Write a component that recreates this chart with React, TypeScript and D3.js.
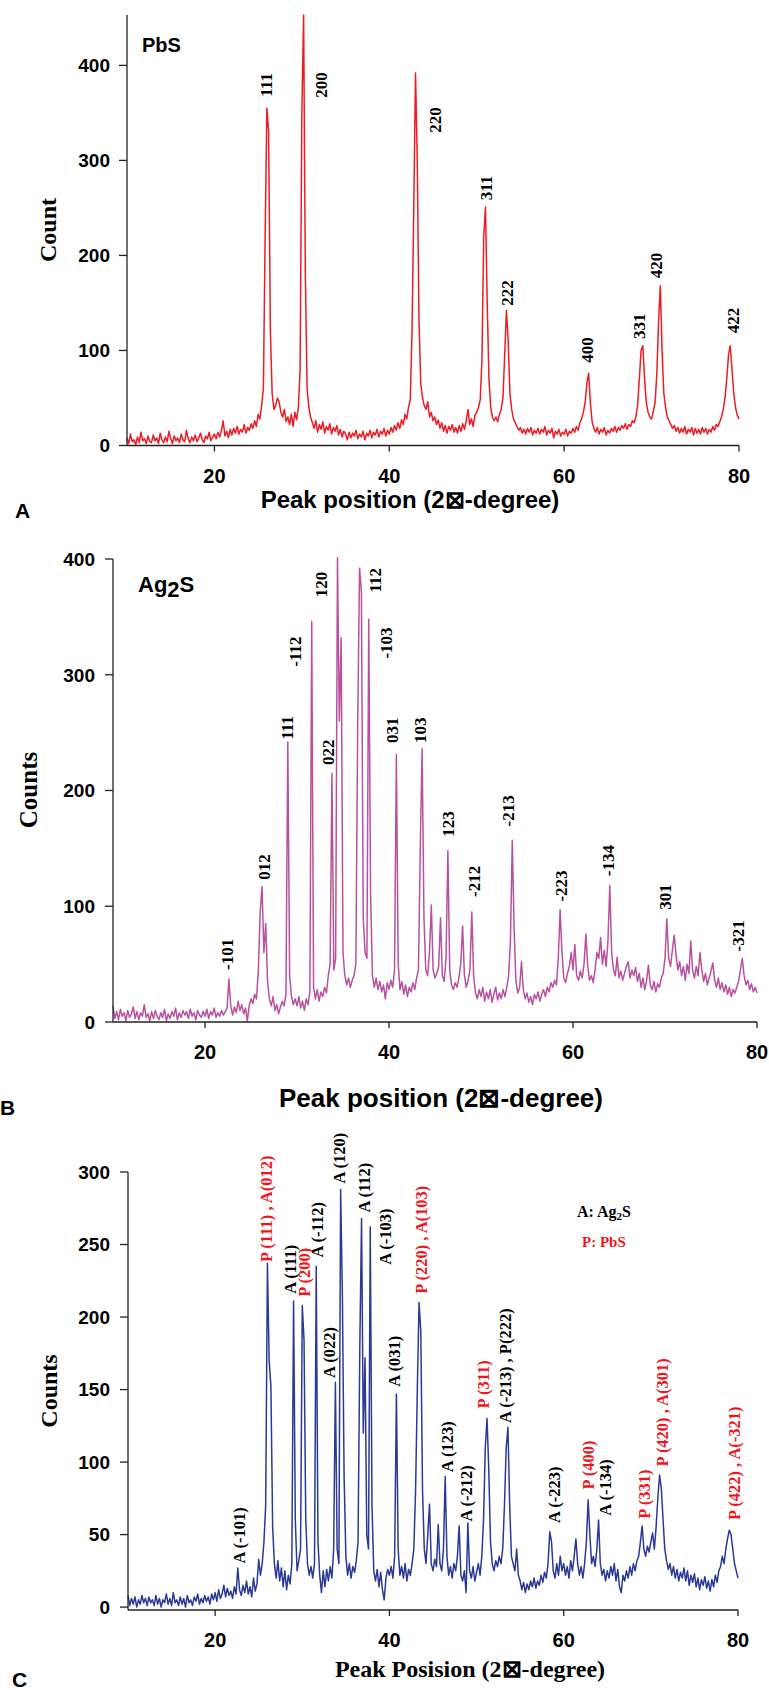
import React from 'react';
import * as d3 from 'd3';

// ---------- sampling grid (2θ in degrees) ----------
const ANGLE_START = 10;
const ANGLE_STEP = 0.2;

// ---------- data: counts, one value per 0.2° from 10° to 80° ----------
const pbsCounts = [
  8, 2, 12, 4, 6, 1, 9, 3, 14, 5, 7, 2, 10, 4, 3, 11, 5, 8, 2, 13, 6, 3, 9, 4, 15, 7, 2, 10, 5, 8, 3, 12, 6, 4, 16, 7, 3, 9, 5, 11, 4, 8, 13, 6, 3, 10, 7, 14, 5, 9,
  12, 7, 14, 9, 16, 26, 10, 15, 8, 17, 11, 18, 13, 20, 12, 17, 14, 22, 13, 19, 16, 23, 18, 26, 20, 33, 28, 42, 60, 220, 355, 330, 120, 55, 38, 42, 50, 46, 35, 30, 38, 25, 30, 22, 33, 20, 35, 27, 40, 80,
  350, 453, 180, 60, 40, 30, 24, 18, 26, 14, 22, 17, 25, 13, 20, 16, 23, 12, 19, 15, 21, 11, 17, 9, 15, 12, 6, 14, 8, 13, 10, 16, 7, 12, 9, 15, 6, 13, 10, 16, 8, 14, 11, 17, 9, 15, 12, 18, 10, 16,
  12, 19, 14, 21, 16, 24, 18, 27, 22, 33, 28, 40, 48, 120, 250, 392, 300, 130, 65, 50, 42, 38, 46, 30, 35, 26, 30, 22, 27, 18, 24, 15, 21, 13, 20, 16, 22, 14, 19, 13, 21, 15, 23, 17, 26, 38, 22, 28, 20, 32,
  35, 40, 48, 90, 220, 251, 150, 70, 40, 30, 26, 30, 25, 33, 38, 50, 95, 142, 110, 55, 38, 28, 24, 20, 16, 19, 13, 17, 12, 18, 14, 19, 11, 16, 13, 18, 12, 17, 14, 20, 11, 16, 13, 18, 8, 15, 12, 17, 10, 14,
  12, 17, 10, 15, 13, 18, 14, 20, 16, 24, 28, 35, 45, 66, 76, 45, 25, 18, 14, 19, 12, 17, 14, 19, 11, 16, 13, 18, 15, 20, 14, 19, 16, 21, 18, 23, 17, 22, 20, 26, 24, 30, 42, 70, 100, 105, 70, 45, 35, 30,
  28, 36, 45, 75, 130, 168, 100, 55, 40, 30, 26, 22, 18, 21, 15, 19, 13, 18, 14, 20, 12, 17, 14, 19, 11, 18, 13, 17, 12, 19, 14, 18, 12, 17, 14, 20, 16, 22, 20, 25, 30, 38, 50, 70, 95, 105, 80, 55, 40, 32,
  28,
];

const ag2sCounts = [
  14, 3, 9, 2, 11, 5, 8, 1, 10, 4, 7, 13, 3, 9, 2, 8, 5, 15, 4, 7, 1, 9, 3, 10, 5, 2, 8, 4, 11, 1, 7, 3, 9, 5, 12, 2, 8, 4, 10, 6, 9, 3, 11, 5, 8, 2, 10, 6, 4, 9,
  5, 11, 3, 9, 6, 12, 4, 8, 5, 10, 6, 9, 12, 37, 14, 6, 13, 8, 18, 10, 15, 7, 12, 1, 14, 20, 16, 24, 20, 45, 95, 117, 60, 85, 35, 20, 14, 22, 10, 15, 7, 13, 18, 14, 24, 242, 40, 22, 15, 20,
  14, 22, 12, 18, 10, 20, 15, 26, 346, 30, 20, 28, 18, 26, 22, 30, 25, 40, 50, 215, 45, 55, 401, 260, 332, 60, 40, 32, 38, 30, 36, 40, 50, 259, 392, 372, 90, 60, 55, 348, 110, 40, 30, 38, 28, 35, 26, 32, 20, 34,
  28, 36, 30, 45, 231, 50, 28, 35, 24, 32, 22, 30, 26, 34, 28, 38, 45, 150, 236, 90, 45, 40, 60, 101, 45, 38, 42, 48, 90, 40, 35, 55, 148, 45, 32, 28, 34, 30, 38, 50, 83, 40, 30, 36, 45, 95, 40, 25, 20, 28,
  22, 30, 18, 26, 20, 28, 17, 24, 30, 19, 25, 20, 28, 22, 30, 40, 70, 157, 80, 35, 25, 30, 52, 28, 20, 25, 17, 22, 15, 24, 20, 26, 18, 24, 28, 22, 30, 26, 34, 30, 36, 32, 55, 97, 60, 38, 34, 42, 48, 60,
  45, 67, 40, 36, 44, 38, 50, 76, 48, 36, 40, 34, 45, 60, 55, 73, 50, 62, 48, 70, 118, 60, 45, 40, 56, 38, 44, 36, 42, 48, 52, 38, 45, 40, 47, 35, 42, 30, 38, 28, 36, 49, 32, 28, 35, 26, 33, 30, 38, 42,
  55, 89, 55, 48, 62, 75, 58, 45, 52, 40, 48, 36, 50, 42, 70, 45, 38, 48, 40, 60, 45, 35, 42, 32, 38, 44, 51, 36, 30, 38, 28, 34, 26, 32, 24, 30, 22, 28, 25, 30, 35, 45, 55, 40, 32, 36, 28, 33, 26, 30,
  25,
];

const mixCounts = [
  8, 1, 6, 2, 7, 0, 5, 2, 8, 3, 6, 1, 7, 3, 5, 1, 8, 2, 6, 0, 5, 3, 9, 2, 6, 1, 10, 3, 5, 1, 7, 2, 6, 0, 8, 3, 5, 1, 7, 4, 9, 2, 6, 3, 8, 4, 7, 2, 9, 5,
  10, 4, 12, 6, 9, 15, 7, 13, 8, 11, 6, 14, 9, 27, 12, 8, 15, 10, 18, 9, 14, 7, 20, 11, 16, 33, 22, 30, 45, 70, 237, 170, 152, 55, 30, 20, 32, 18, 27, 14, 25, 12, 22, 16, 30, 211, 60, 25, 32, 40,
  208, 184, 60, 30, 22, 28, 20, 30, 235, 45, 22, 10, 25, 14, 26, 18, 28, 20, 40, 155, 40, 30, 288, 216, 90, 35, 22, 30, 20, 28, 24, 32, 45, 179, 268, 120, 172, 50, 40, 262, 70, 25, 18, 26, 14, 24, 12, 5, 20, 26,
  22, 28, 20, 35, 147, 40, 22, 28, 20, 30, 18, 26, 22, 30, 40, 80, 150, 210, 190, 80, 40, 30, 50, 71, 30, 25, 33, 28, 57, 30, 25, 40, 90, 35, 22, 28, 20, 30, 25, 35, 56, 22, 18, 25, 10, 58, 25, 20, 28, 18,
  24, 30, 22, 35, 60, 110, 130, 95, 45, 30, 25, 32, 28, 35, 30, 40, 70, 110, 124, 70, 35, 30, 25, 40, 22, 18, 12, 17, 10, 16, 12, 18, 14, 20, 13, 18, 15, 22, 17, 24, 20, 30, 52, 45, 25, 20, 30, 22, 35, 25,
  30, 22, 28, 20, 32, 25, 35, 47, 30, 22, 28, 20, 30, 45, 74, 50, 30, 35, 28, 40, 60, 30, 22, 26, 18, 25, 20, 28, 22, 30, 18, 26, 14, 10, 22, 18, 25, 20, 28, 22, 30, 25, 32, 35, 45, 56, 40, 35, 42, 38,
  45, 51, 40, 55, 75, 91, 82, 60, 40, 32, 26, 30, 22, 28, 20, 26, 18, 24, 20, 27, 18, 25, 15, 22, 17, 23, 14, 20, 12, 19, 15, 21, 13, 18, 11, 19, 14, 22, 17, 25, 28, 35, 30, 40, 47, 53, 50, 40, 30, 25,
  20,
];

// ---------- ticks ----------
const xTicks = [20, 40, 60, 80];
const pbsYTicks = [0, 100, 200, 300, 400];
const ag2sYTicks = [0, 100, 200, 300, 400];
const mixYTicks = [0, 50, 100, 150, 200, 250, 300];

// ---------- peak labels: [2θ, count at the foot of the label, text] ----------
const pbsLabels: [number, number, string][] = [
  [25.9, 367, '111'], [32.2, 366, '200'], [45.3, 329, '220'], [51.1, 258, '311'], [53.5, 147, '222'],
  [62.7, 87, '400'], [68.6, 112, '331'], [70.6, 176, '420'], [79.3, 118, '422'],
];
const ag2sLabels: [number, number, string][] = [
  [22.4, 45, '-101'], [26.4, 123, '012'], [29.0, 244, '111'], [29.8, 307, '-112'], [33.4, 222, '022'],
  [32.7, 367, '120'], [38.5, 371, '112'], [39.7, 314, '-103'], [40.4, 241, '031'], [43.4, 241, '103'],
  [46.4, 160, '123'], [49.3, 108, '-212'], [53.0, 169, '-213'], [58.7, 104, '-223'], [63.8, 126, '-134'],
  [70.0, 97, '301'], [78.0, 61, '-321'],
];
const mixLabels: [number, number, string][] = [
  [22.85, 30, 'A (-101)'], [25.95, 238, 'P (111) , A(012)'], [28.7, 216, 'A (111)'], [30.3, 214, 'P (200)'],
  [31.8, 241, 'A (-112)'], [33.1, 158, 'A (022)'], [34.3, 292, 'A (120)'], [37.1, 272, 'A (112)'],
  [39.6, 236, 'A (-103)'], [40.6, 152, 'A (031)'], [43.7, 216, 'P (220) , A(103)'], [46.7, 93, 'A (123)'],
  [48.8, 59, 'A (-212)'], [50.85, 137, 'P (311)'], [53.3, 127, 'A (-213) , P(222)'], [58.9, 58, 'A (-223)'],
  [62.9, 81, 'P (400)'], [64.85, 63, 'A (-134)'], [69.3, 61, 'P (331)'], [71.3, 97, 'P (420) , A(301)'],
  [79.55, 60, 'P (422) , A(-321)'],
];

// ---------- styles ----------
const SANS = '"Liberation Sans", Arial, Helvetica, sans-serif';
const SERIF = '"Liberation Serif", "Times New Roman", Times, serif';
const AXIS = '#222';
const RED_LABEL = '#f0141c';

type PanelProps = {
  counts: number[];
  color: string;
  left: number;
  right: number;
  top: number;
  bottom: number;
  yMin: number;
  yMax: number;
  yTicks: number[];
  labels: [number, number, string][];
  labelSize: number;
  labelColor?: (t: string) => string;
  tickSize: number;
  yTickGap: number;
};

function Panel(p: PanelProps) {
  const x = d3.scaleLinear().domain([10, 80]).range([p.left, p.right]);
  const y = d3.scaleLinear().domain([p.yMin, p.yMax]).range([p.bottom, p.top]);
  const path = d3
    .line<number>()
    .x((_, i) => x(ANGLE_START + i * ANGLE_STEP))
    .y((d) => y(d))(p.counts);
  const axisY = y(p.yMin);
  return (
    <g>
      <path d={path || ''} fill="none" stroke={p.color} strokeWidth={1.5} strokeLinejoin="round" />
      {/* y axis */}
      <line x1={p.left} x2={p.left} y1={p.top} y2={axisY} stroke={AXIS} strokeWidth={1.3} />
      {p.yTicks.map((t) => (
        <g key={'y' + t}>
          <line x1={p.left - 8} x2={p.left} y1={y(t)} y2={y(t)} stroke={AXIS} strokeWidth={1.3} />
          <text x={p.left - p.yTickGap} y={y(t)} dy="0.36em" textAnchor="end" fontFamily={SANS} fontWeight="bold" fontSize={p.tickSize} fill="#000">
            {t}
          </text>
        </g>
      ))}
      {/* x axis */}
      <line x1={p.left} x2={p.right} y1={axisY} y2={axisY} stroke={AXIS} strokeWidth={1.3} />
      {xTicks.map((t) => (
        <g key={'x' + t}>
          <line x1={x(t)} x2={x(t)} y1={axisY} y2={axisY + 6} stroke={AXIS} strokeWidth={1.3} />
          <text x={x(t)} y={axisY + 37} textAnchor="middle" fontFamily={SANS} fontWeight="bold" fontSize={20} fill="#000">
            {t}
          </text>
        </g>
      ))}
      {/* peak labels */}
      {p.labels.map(([a, c, t], i) => (
        <text
          key={'l' + i}
          transform={`translate(${x(a)},${y(c)}) rotate(-90)`}
          dy="0.33em"
          fontFamily={SERIF}
          fontWeight="bold"
          fontSize={p.labelSize}
          fill={p.labelColor ? p.labelColor(t) : '#000'}
        >
          {t}
        </text>
      ))}
    </g>
  );
}

const TITLE = 'Peak position (2\u22A0-degree)';
const TITLE_C = 'Peak Posision (2\u22A0-degree)';

export default function App() {
  return (
    <svg width={769} height={1690} style={{ position: 'absolute', left: 0, top: 0, background: '#fff' }}>
      <rect x={0} y={0} width={769} height={1690} fill="#fff" />

      {/* ---------- Panel A ---------- */}
      <Panel counts={pbsCounts} color="#ec1c24" left={127} right={739} top={15} bottom={445.5} yMin={0} yMax={453}
        yTicks={pbsYTicks} labels={pbsLabels} labelSize={17} tickSize={19} yTickGap={17} />
      <text x={142} y={52} fontFamily={SANS} fontWeight="bold" fontSize={20}>PbS</text>
      <text transform="translate(56,230) rotate(-90)" textAnchor="middle" fontFamily={SERIF} fontWeight="bold" fontSize={24}>Count</text>
      <text x={410} y={508} textAnchor="middle" fontFamily={SANS} fontWeight="bold" fontSize={24}>{TITLE}</text>
      <text x={15} y={518} fontFamily={SANS} fontWeight="bold" fontSize={21}>A</text>

      {/* ---------- Panel B ---------- */}
      <Panel counts={ag2sCounts} color="#b8529f" left={113} right={757} top={559} bottom={1022} yMin={0} yMax={400}
        yTicks={ag2sYTicks} labels={ag2sLabels} labelSize={17} tickSize={19} yTickGap={18} />
      <text x={138} y={592} fontFamily={SANS} fontWeight="bold" fontSize={22}>
        Ag<tspan dy={5}>2</tspan><tspan dy={-5}>S</tspan>
      </text>
      <text transform="translate(37,790) rotate(-90)" textAnchor="middle" fontFamily={SERIF} fontWeight="bold" fontSize={25}>Counts</text>
      <text x={441} y={1107} textAnchor="middle" fontFamily={SANS} fontWeight="bold" fontSize={26}>{TITLE}</text>
      <text x={0} y={1115} fontFamily={SANS} fontWeight="bold" fontSize={21}>B</text>

      {/* ---------- Panel C ---------- */}
      <Panel counts={mixCounts} color="#2b3a94" left={128} right={738} top={1172} bottom={1610} yMin={-2} yMax={300}
        yTicks={mixYTicks} labels={mixLabels} labelSize={16.5} tickSize={19} yTickGap={18}
        labelColor={(t) => (t.startsWith('P') ? RED_LABEL : '#000')} />
      <text x={577} y={1217} fontFamily={SERIF} fontWeight="bold" fontSize={16}>
        A: Ag<tspan dy={3} fontSize={11}>2</tspan><tspan dy={-3}>S</tspan>
      </text>
      <text x={582} y={1247} fontFamily={SERIF} fontWeight="bold" fontSize={15} fill={RED_LABEL}>P: PbS</text>
      <text transform="translate(57,1391) rotate(-90)" textAnchor="middle" fontFamily={SERIF} fontWeight="bold" fontSize={24}>Counts</text>
      <text x={470} y={1677} textAnchor="middle" fontFamily={SERIF} fontWeight="bold" fontSize={24}>{TITLE_C}</text>
      <text x={12} y={1687} fontFamily={SANS} fontWeight="bold" fontSize={21}>C</text>
    </svg>
  );
}
